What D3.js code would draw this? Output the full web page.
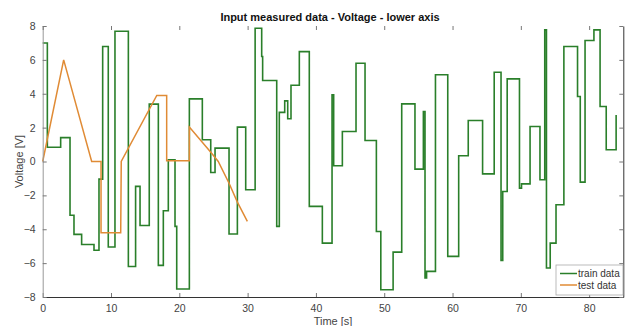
<!DOCTYPE html>
<html>
<head>
<meta charset="utf-8">
<script src="https://cdn.jsdelivr.net/npm/d3@7"></script>
<style>
  body { margin: 0; background: #fff; }
  svg { display: block; font-family: "Liberation Sans", Arial, sans-serif; }
</style>
</head>
<body>
<div id="chart"></div>
<script>
// train data: step levels (time the level starts, value)
const trainTime = [0, 0.68, 2.63, 4.0, 4.58, 5.7, 7.51, 8.24, 8.78, 9.6, 10.58, 12.54, 13.6, 14.25,
  15.6, 16.93, 17.66, 18.39, 19.37, 19.62, 21.47, 23.37, 24.6, 25.23, 27.28, 28.5, 29.72, 31.1,
  32.06, 32.2, 34.26, 34.64, 35.43, 35.87, 36.35, 37.57, 39.03, 40.94, 42.36, 42.6, 43.87, 45.87,
  47.19, 48.85, 49.5, 51.3, 52.56, 54.5, 55.73, 55.97, 56.2, 57.5, 59.3, 60.9, 62.3, 64.4, 66.1,
  67.1, 67.35, 68.0, 69.8, 70.1, 71.35, 72.8, 73.5, 73.75, 74.3, 75.15, 76.3, 78.3, 78.7, 79.4,
  80.7, 81.6, 82.5, 83.95];
const trainValue = [7.0, 0.84, 1.41, -3.17, -4.3, -4.9, -5.24, -1.04, 6.79, -5.05, 7.69, -6.2, -1.47, -3.78,
  3.39, -6.13, -2.91, 0.1, -3.83, -7.53, 3.7, 1.28, -0.65, 0.79, -4.28, 2.03, -1.67, 7.87,
  6.2, 4.78, -3.83, 2.9, 3.58, 2.52, 4.5, 6.49, -2.65, -4.82, 3.94, -0.25, 1.77, 5.8,
  1.24, -4.13, -7.57, -5.35, 3.4, -0.45, 2.95, -6.88, -6.49, 5.12, -5.6, 0.34, 2.42, -0.73, 5.27,
  -5.84, -1.77, 4.88, -1.57, -1.32, 2.07, -1.08, 7.77, -6.29, -4.82, -2.55, 6.79, 3.84, -1.22, 7.14,
  7.77, 3.25, 0.69, 2.75];

// test data: sampled points
const testTime = [0, 3.07, 7.17, 8.54, 8.54, 11.42, 11.5, 16.7, 18.15, 18.15, 21.47, 21.47, 24.7, 25.7, 27.3, 28.5, 29.96];
const testValue = [0, 6.0, 0, 0, -4.2, -4.2, 0, 3.9, 3.9, 0.05, 0.05, 2.03, 0.5, 0, -1.3, -2.4, -3.54];

const xTicks = [0, 10, 20, 30, 40, 50, 60, 70, 80];
const yTicks = [-8, -6, -4, -2, 0, 2, 4, 6, 8];

const width = 632, height = 326;
const margin = { left: 42.7, right: 8.7, top: 26, bottom: 29 };

const x = d3.scaleLinear().domain([0, 85]).range([margin.left, width - margin.right]);
const y = d3.scaleLinear().domain([-8, 8]).range([height - margin.bottom, margin.top]);

const svg = d3.select('#chart').append('svg')
  .attr('width', width)
  .attr('height', height);

const train = trainTime.map((t, i) => ({ t: t, v: trainValue[i] }));
const test = testTime.map((t, i) => ({ t: t, v: testValue[i] }));

svg.append('path')
  .datum(train)
  .attr('fill', 'none')
  .attr('stroke', '#2a7f2a')
  .attr('stroke-width', 1.6)
  .attr('d', d3.line().curve(d3.curveStepAfter).x(d => x(d.t)).y(d => y(d.v)));

svg.append('path')
  .datum(test)
  .attr('fill', 'none')
  .attr('stroke', '#e08b35')
  .attr('stroke-width', 1.5)
  .attr('d', d3.line().x(d => x(d.t)).y(d => y(d.v)));

// axes, matlab style (ticks inside)
const axisColor = '#333';
const gBottom = svg.append('g')
  .attr('transform', `translate(0,${y(-8)})`)
  .call(d3.axisBottom(x).tickValues(xTicks).tickSize(-4).tickPadding(8).tickSizeOuter(0));
const gLeft = svg.append('g')
  .attr('transform', `translate(${x(0)},0)`)
  .call(d3.axisLeft(y).tickValues(yTicks).tickSize(-4).tickPadding(7).tickSizeOuter(0));
const gTop = svg.append('g')
  .attr('transform', `translate(0,${y(8)})`)
  .call(d3.axisTop(x).tickValues(xTicks).tickSize(-4).tickFormat('').tickSizeOuter(0));
const gRight = svg.append('g')
  .attr('transform', `translate(${x(85)},0)`)
  .call(d3.axisRight(y).tickValues(yTicks).tickSize(-4).tickFormat('').tickSizeOuter(0));

[gBottom, gLeft, gTop, gRight].forEach(g => {
  g.selectAll('line').attr('stroke', '#777');
  g.selectAll('text').attr('fill', '#444').style('font-size', '10.5px');
});
gBottom.select('.domain').attr('stroke', axisColor);
gLeft.select('.domain').attr('stroke', '#999');
gTop.select('.domain').attr('stroke', 'none');
gRight.select('.domain').attr('stroke', axisColor);

// labels
svg.append('text')
  .attr('x', 330).attr('y', 21)
  .attr('text-anchor', 'middle')
  .style('font-size', '11px').style('font-weight', 'bold').attr('fill', '#111')
  .text('Input measured data - Voltage - lower axis');

svg.append('text')
  .attr('x', x(42.5)).attr('y', 325)
  .attr('text-anchor', 'middle')
  .style('font-size', '11px').attr('fill', '#444')
  .text('Time [s]');

svg.append('text')
  .attr('transform', `translate(23,${y(0)}) rotate(-90)`)
  .attr('text-anchor', 'middle')
  .style('font-size', '11px').attr('fill', '#444')
  .text('Voltage [V]');

// legend
const legend = svg.append('g').attr('transform', 'translate(556,265)');
legend.append('rect')
  .attr('width', 67).attr('height', 30)
  .attr('fill', '#fff').attr('stroke', '#aaa').attr('stroke-width', 0.8);
const items = [{ name: 'train data', color: '#2a7f2a' }, { name: 'test data', color: '#e08b35' }];
items.forEach((d, i) => {
  const gy = 8.5 + i * 11.5;
  legend.append('line')
    .attr('x1', 4).attr('x2', 21).attr('y1', gy).attr('y2', gy)
    .attr('stroke', d.color).attr('stroke-width', 1.5);
  legend.append('text')
    .attr('x', 22).attr('y', gy + 3.5)
    .style('font-size', '10px').attr('fill', '#333')
    .text(d.name);
});
</script>
</body>
</html>
